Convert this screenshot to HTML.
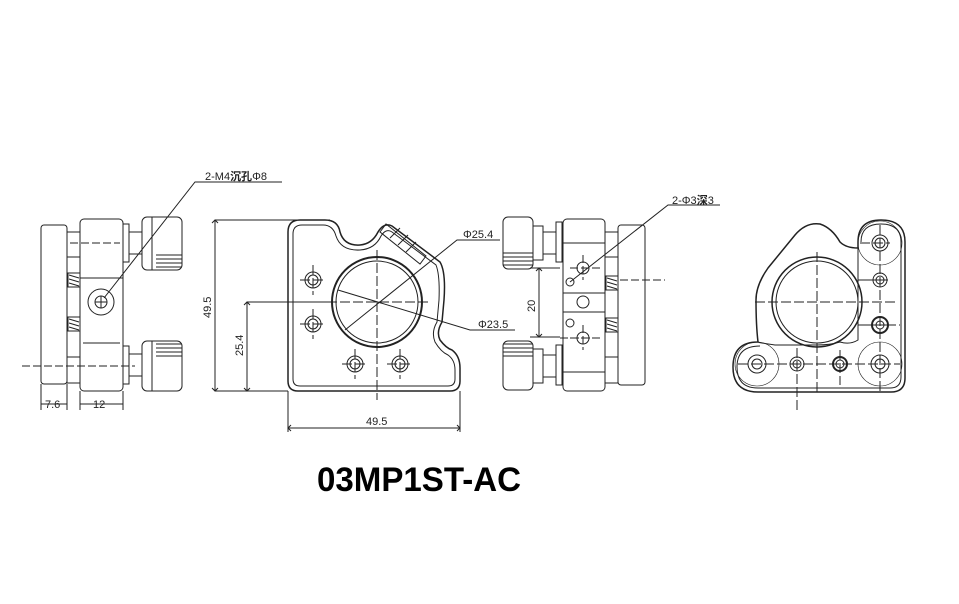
<!DOCTYPE html>
<html><head><meta charset="utf-8"><style>
html,body{margin:0;padding:0;background:#fff;}
svg{display:block;}
text{font-family:"Liberation Sans","Noto Sans CJK SC",sans-serif;}
</style></head><body>
<svg width="959" height="604" viewBox="0 0 959 604" xmlns="http://www.w3.org/2000/svg">
<g fill="none" stroke="#222" stroke-width="1">
<!-- VIEW 1 -->
<rect x="41" y="225" width="26" height="159" rx="3"/>
<rect x="80" y="219" width="43" height="172" rx="4"/>
<line x1="80" y1="278" x2="123" y2="278"/>
<line x1="83" y1="343" x2="120" y2="343"/>
<rect x="67" y="232" width="13" height="25"/>
<rect x="67" y="357" width="13" height="26"/>
<rect x="68" y="273" width="12" height="14"/>
<path d="M69 275l10 3M69 279l10 3M69 283l10 3"/>
<rect x="68" y="317" width="12" height="14"/>
<path d="M69 319l10 3M69 323l10 3M69 327l10 3"/>
<rect x="123" y="224" width="6" height="38"/>
<rect x="129" y="232" width="13" height="22"/>
<rect x="142" y="217" width="40" height="53" rx="5"/>
<path d="M152 217v53M156 255h26M156 259h26M156 263h26M156 267h26"/>
<rect x="123" y="346" width="6" height="38"/>
<rect x="129" y="354" width="13" height="22"/>
<rect x="142" y="341" width="40" height="50" rx="5"/>
<path d="M152 341v50M156 344h26M156 348h26M156 352h26M156 356h26"/>
<circle cx="101" cy="302" r="13"/>
<circle cx="101" cy="302" r="6"/>
<path d="M95 302h12M101 296v12"/>
<path d="M22 366h113M70 243h50" stroke-dasharray="8 3"/>
<path d="M104 298L195 182H282"/>
<path d="M41 384v26M67 384v26M80 391v19M123 391v19M41 404h26M80 404h43"/>
<!-- VIEW 2 -->
<path d="M215 220H330M215 391H288M247 302H330M215 220V391M247 302V391M212 223l3 -3 3 3M212 388l3 3 3 -3M244 305l3 -3 3 3M244 388l3 3 3 -3"/>
<path d="M288 391V432M460 391V432M288 428H460M291 425l-3 3 3 3M457 425l3 3 -3 3"/>
<path d="M300 220H325Q338 220 340 232Q344 246 360 245Q372 244 378 232Q384 222 392 226L440 262Q446 272 444 300L442 322Q436 332 440 340Q446 348 452 350Q460 356 460 368V381Q460 391 450 391H298Q288 391 288 381V232Q288 220 300 220Z" stroke-width="1.5"/>
<path d="M302 225H323Q333 225 336 236Q341 251 360 250Q375 249 381 236Q386 228 392 232L436 265Q440 275 439 300L437 322Q431 332 435 342Q441 352 448 355Q455 360 455 370V379Q455 386 448 386H300Q293 386 293 379V234Q293 225 302 225Z"/>
<circle cx="377" cy="302" r="45" stroke-width="2"/>
<circle cx="377" cy="302" r="41"/>
<path d="M380 232l40 32 6 -8 -40 -32z"/>
<path d="M390 238l10 -10M398 245l10 -10M406 252l10 -10"/>
<path d="M288 302H430M377 250V400M300 280h26M313 265v30M300 324h26M313 309v30M342 364h26M355 349v30M387 364h26M400 349v30" stroke-dasharray="10 3"/>
<circle cx="313" cy="280" r="8"/><circle cx="313" cy="280" r="5"/>
<circle cx="313" cy="324" r="8"/><circle cx="313" cy="324" r="5"/>
<circle cx="355" cy="364" r="8"/><circle cx="355" cy="364" r="5"/>
<circle cx="400" cy="364" r="8"/><circle cx="400" cy="364" r="5"/>
<path d="M345 330L457 240H500M338 290L470 330H515"/>
<!-- VIEW 3 -->
<rect x="503" y="217" width="30" height="52" rx="5"/>
<path d="M503 253h30M503 257h30M503 261h30M503 265h30"/>
<rect x="503" y="341" width="30" height="49" rx="5"/>
<path d="M503 344h30M503 348h30M503 352h30M503 356h30"/>
<rect x="533" y="226" width="10" height="34"/><rect x="543" y="232" width="13" height="22"/>
<rect x="533" y="349" width="10" height="34"/><rect x="543" y="355" width="13" height="22"/>
<rect x="556" y="222" width="6" height="40"/><rect x="556" y="345" width="6" height="40"/>
<rect x="563" y="219" width="42" height="172" rx="4"/>
<path d="M563 243h42M563 293h42M563 312h42M563 372h42"/>
<rect x="605" y="232" width="13" height="25"/><rect x="605" y="357" width="13" height="26"/>
<rect x="606" y="276" width="12" height="14"/><path d="M607 278l10 3M607 282l10 3M607 286l10 3"/>
<rect x="606" y="318" width="12" height="14"/><path d="M607 320l10 3M607 324l10 3M607 328l10 3"/>
<rect x="618" y="225" width="27" height="160" rx="3"/>
<circle cx="583" cy="268" r="6"/><circle cx="570" cy="282" r="4"/>
<circle cx="583" cy="302" r="6"/><circle cx="570" cy="323" r="4"/>
<circle cx="583" cy="338" r="6"/>
<path d="M570 268h30M583 255v25M570 338h30M583 325v25M560 338h40M620 280h45" stroke-dasharray="8 3"/>
<path d="M539 268V337M536 271l3 -3 3 3M536 334l3 3 3 -3M530 268H560M530 337H560"/>
<path d="M570 282L668 205H720"/>
<!-- VIEW 4 -->
<path d="M858 242Q858 220 881 220Q905 220 905 242V378Q905 392 891 392H758Q733 392 733 367Q733 342 758 342Q756 325 756 300Q756 285 768 268L795 235Q806 222 820 224Q832 228 840 242Q846 248 858 248Z" stroke-width="1.5"/>
<path d="M861 242Q861 224 881 224Q901 224 901 242V377Q901 388 890 388H758Q737 388 737 367Q737 346 760 346"/>
<path d="M858 248V340Q850 345 840 342Q830 345 817 345H775Q760 343 758 342"/>
<circle cx="817" cy="302" r="45" stroke-width="1.5"/>
<circle cx="817" cy="302" r="41"/>
<path d="M858 325h30M858 280h30"/>
<circle cx="880" cy="243" r="8"/><circle cx="880" cy="243" r="5"/>
<circle cx="880" cy="280" r="7"/><circle cx="880" cy="280" r="4"/>
<circle cx="880" cy="325" r="8" stroke-width="2"/><circle cx="880" cy="325" r="4"/>
<circle cx="880" cy="364" r="9"/><circle cx="880" cy="364" r="5"/>
<circle cx="757" cy="364" r="9"/><circle cx="757" cy="364" r="5"/>
<circle cx="797" cy="364" r="7"/><circle cx="797" cy="364" r="4"/>
<circle cx="840" cy="364" r="7" stroke-width="2"/><circle cx="840" cy="364" r="4"/>
<circle cx="880" cy="243" r="22" stroke-width="0.6"/>
<circle cx="880" cy="364" r="22" stroke-width="0.6"/>
<circle cx="757" cy="364" r="22" stroke-width="0.6"/>
<path d="M755 302H895M817 252V395M738 364H900M880 225V392M860 243h30M860 325h40M797 348V410M840 350V385" stroke-dasharray="10 3"/>
</g>
<g fill="#222" font-size="11">
<text x="205" y="180">2-M4<tspan font-weight="bold">沉孔</tspan>Φ8</text>
<text x="463" y="238">Φ25.4</text>
<text x="478" y="328">Φ23.5</text>
<text x="672" y="204">2-Φ3<tspan font-weight="bold">深</tspan>3</text>
<text x="45" y="408">7.6</text>
<text x="93" y="408">12</text>
<text x="366" y="425">49.5</text>
<text transform="translate(211 318) rotate(-90)">49.5</text>
<text transform="translate(243 356) rotate(-90)">25.4</text>
<text transform="translate(535 312) rotate(-90)">20</text>
</g>
<text x="317" y="491" font-size="34" font-weight="bold" textLength="204" lengthAdjust="spacingAndGlyphs" fill="#000">03MP1ST-AC</text>
</svg>
</body></html>
